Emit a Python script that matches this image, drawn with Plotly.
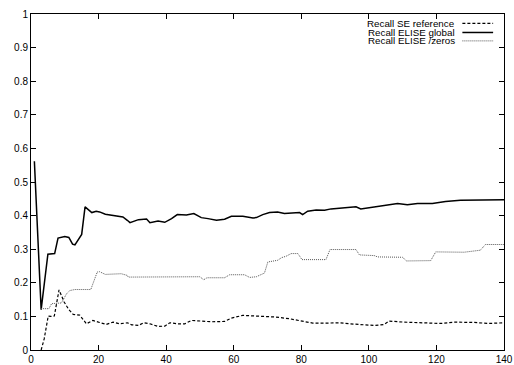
import plotly.graph_objects as go

# Series names
names = ["Recall SE reference", "Recall ELISE global", "Recall ELISE /zeros"]

# Recall SE reference (dashed)
se_x = [3, 3.9, 5.1, 5.9, 6.9, 8.3, 9.8, 11.2, 12.5, 14.4, 16.4, 18.3, 20.3, 22.3, 24.3, 26.2,
        28.5, 29.8, 31.8, 33.3, 35.2, 37.6, 39.6, 41.1, 43.5, 45.5, 47.5, 50.4, 53.4, 57.3,
        59.3, 62.7, 65.7, 68.6, 72.5, 76.5, 79.9, 83.4, 87.3, 91.2, 94.2, 98.2, 101.6,
        104.5, 106, 110.4, 115.4, 121.2, 125.2, 131.1, 135.5, 140]
se_y = [0.0, 0.033, 0.101, 0.1, 0.101, 0.179, 0.143, 0.12, 0.106, 0.104, 0.078, 0.088, 0.082,
        0.076, 0.083, 0.078, 0.081, 0.075, 0.073, 0.081, 0.078, 0.070, 0.071, 0.081, 0.078,
        0.078, 0.088, 0.085, 0.084, 0.085, 0.095, 0.103, 0.102, 0.101, 0.098, 0.093, 0.086,
        0.080, 0.080, 0.081, 0.078, 0.075, 0.073, 0.076, 0.086, 0.083, 0.082, 0.079, 0.083,
        0.082, 0.079, 0.081]

# Recall ELISE global (solid)
gl_x = [1, 3, 5, 7, 8, 10, 11.2, 12.3, 13, 15, 16, 18, 19.3, 20.3, 22, 24.8, 27.2, 28.5,
        29.3, 31.8, 34.2, 35.2, 37.6, 39.6, 41.6, 43.3, 46, 48.2, 50.4, 52.4, 54.9, 57.3,
        59.3, 62.7, 65.7, 66.7, 68.6, 70.6, 73, 75, 77.5, 79.5, 80.4, 81.9, 84.4, 86.9,
        88.8, 92.2, 96.2, 97.6, 100.1, 102.5, 106, 108.5, 111.4, 114.4, 118.8, 122.7,
        127.1, 131.1, 134, 140]
gl_y = [0.562, 0.12, 0.285, 0.287, 0.333, 0.338, 0.335, 0.315, 0.313, 0.344, 0.426, 0.409,
        0.413, 0.411, 0.404, 0.400, 0.396, 0.386, 0.379, 0.388, 0.390, 0.379, 0.384, 0.380,
        0.391, 0.403, 0.402, 0.406, 0.394, 0.391, 0.386, 0.389, 0.398, 0.398, 0.393, 0.394,
        0.403, 0.409, 0.411, 0.406, 0.408, 0.409, 0.403, 0.413, 0.417, 0.416, 0.420, 0.422,
        0.426, 0.420, 0.424, 0.428, 0.434, 0.436, 0.432, 0.436, 0.436, 0.442, 0.446, 0.446,
        0.447, 0.447]

# Recall ELISE /zeros (dotted)
zr_x = [3, 5.3, 6.1, 9, 10.5, 11.5, 13, 17.7, 19.6, 20.3, 22, 25.2, 26.7, 28.5, 28.8, 50,
        51.1, 52.1, 57.3, 58.8, 63.2, 64.7, 66.7, 69.1, 70.1, 73, 74.2, 75.5, 77, 79, 80.2,
        87.3, 88.5, 96.2, 97.2, 101.6, 102.6, 110, 111.1, 118.3, 119.8, 128.2, 133, 134.5,
        140]
zr_y = [0.123, 0.123, 0.138, 0.14, 0.167, 0.177, 0.18, 0.18, 0.232, 0.233, 0.225, 0.225,
        0.227, 0.222, 0.217, 0.218, 0.209, 0.215, 0.215, 0.224, 0.224, 0.216, 0.218, 0.229,
        0.262, 0.267, 0.275, 0.279, 0.287, 0.287, 0.269, 0.269, 0.299, 0.299, 0.283, 0.281,
        0.277, 0.276, 0.265, 0.266, 0.292, 0.291, 0.297, 0.314, 0.314]

x_ticks = [0, 20, 40, 60, 80, 100, 120, 140]
y_ticks = [0, 0.1, 0.2, 0.3, 0.4, 0.5, 0.6, 0.7, 0.8, 0.9, 1]

FONT = "Liberation Sans, Arial, sans-serif"
styles = [
    dict(color="black", width=1.2, dash="3px,2px"),
    dict(color="black", width=1.5),
    dict(color="#555555", width=1, dash="1px,1px"),
]

fig = go.Figure()
for name, xs, ys, st in zip(names, [se_x, gl_x, zr_x], [se_y, gl_y, zr_y], styles):
    fig.add_trace(go.Scatter(x=xs, y=ys, mode="lines", name=name, line=st,
                             showlegend=False))

# gnuplot-style legend: right-aligned text with line sample on its right
row_y = [0.972, 0.945, 0.92]
for name, st, ry in zip(names, styles, row_y):
    fig.add_annotation(xref="paper", yref="paper", x=0.899, y=ry, text=name,
                       showarrow=False, xanchor="right", yanchor="middle", borderpad=0,
                       font=dict(family=FONT, size=9.8, color="black"))
    fig.add_shape(type="line", xref="paper", yref="paper", x0=0.912, x1=0.977,
                  y0=ry, y1=ry, line=st)

axis_common = dict(showline=True, linecolor="black", linewidth=1, mirror="ticks",
                   ticks="inside", ticklen=5, tickcolor="black", showgrid=False,
                   zeroline=False, automargin=False,
                   tickfont=dict(family=FONT, size=10, color="black"))
fig.update_xaxes(range=[0, 140], tickvals=x_ticks, **axis_common)
fig.update_yaxes(range=[0, 1], tickvals=y_ticks, **axis_common)

fig.update_layout(width=514, height=365, margin=dict(l=31, r=10, t=14, b=15),
                  plot_bgcolor="white", paper_bgcolor="white",
                  font=dict(family=FONT, size=10, color="black"))
fig.write_html("out.html", config={"displayModeBar": False},
               post_script="document.body.style.margin='0';"
                           "document.body.style.overflow='hidden';")
